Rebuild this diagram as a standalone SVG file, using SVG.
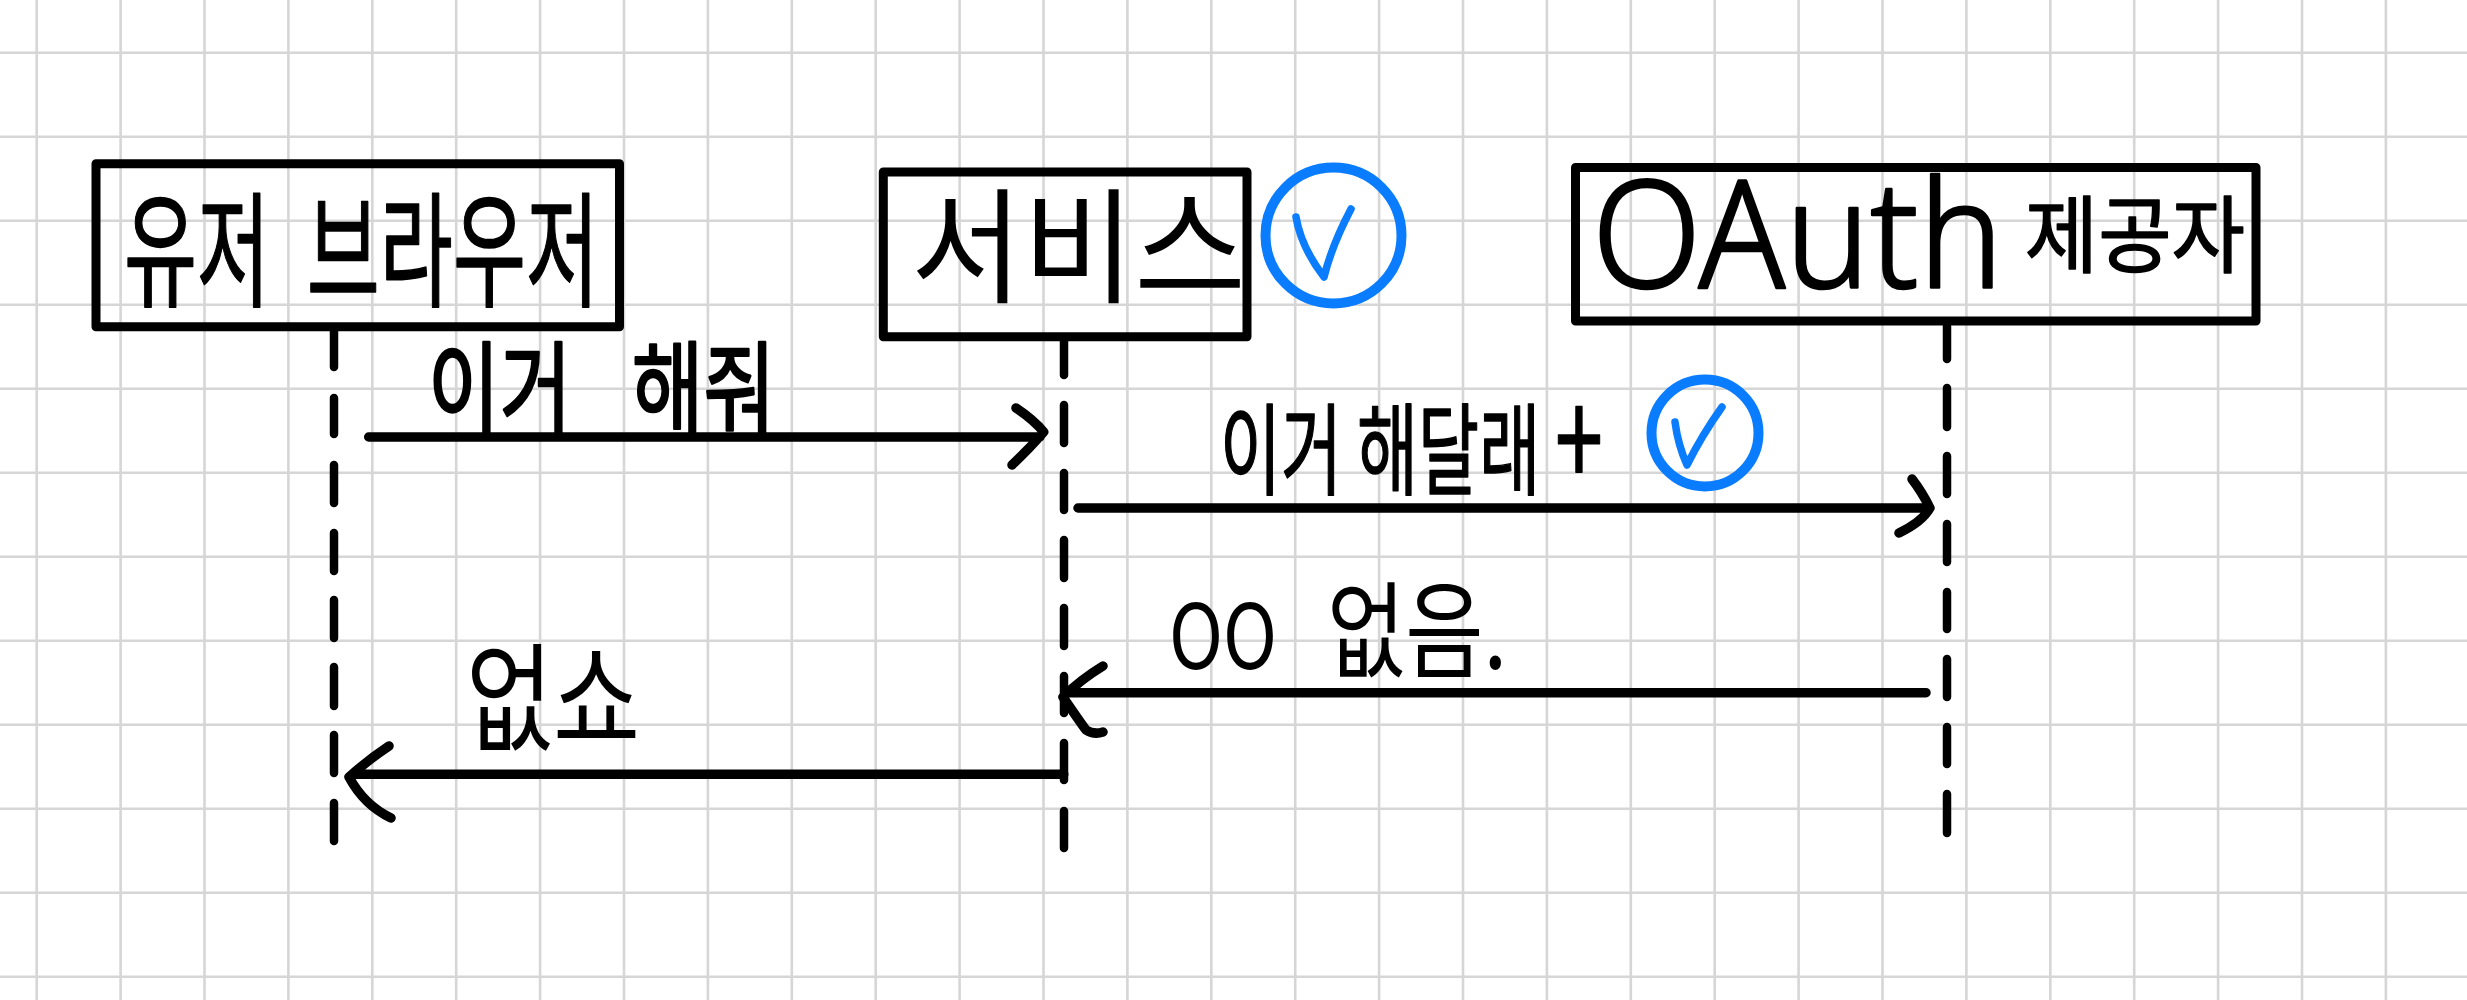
<svg xmlns="http://www.w3.org/2000/svg" width="2467" height="1000" viewBox="0 0 2467 1000">
<style>
.bg{fill:#fff}
.grid{stroke:#d6d6d6;stroke-width:2.6;fill:none}
.box{fill:none;stroke:#000;stroke-width:9;stroke-linejoin:round}
.life{fill:none;stroke:#000;stroke-width:8.500;stroke-linecap:round}
.arrow{fill:none;stroke:#000;stroke-width:9.500;stroke-linecap:round;stroke-linejoin:round}
.mark{fill:none;stroke:#0a7cff;stroke-width:10}
.tick{fill:none;stroke:#0a7cff;stroke-width:7.500;stroke-linecap:round;stroke-linejoin:round}
text{font-family:"Noto Sans CJK KR","Noto Sans",sans-serif;font-weight:400;fill:#000;stroke:#000;stroke-width:1.5;stroke-linejoin:round}
.thin{stroke-width:0}
.heavy{stroke-width:2.500}
.latin{font-family:"Noto Sans","Noto Sans CJK KR",sans-serif;font-weight:300;stroke-width:2.500}
</style>
<rect class="bg" width="2467" height="1000"/>
<g id="grid">
<path class="grid" d="M36.7 0V1000M120.6 0V1000M204.5 0V1000M288.4 0V1000M372.3 0V1000M456.2 0V1000M540.1 0V1000M624 0V1000M707.9 0V1000M791.8 0V1000M875.7 0V1000M959.6 0V1000M1043.5 0V1000M1127.4 0V1000M1211.3 0V1000M1295.2 0V1000M1379.1 0V1000M1463 0V1000M1546.9 0V1000M1630.8 0V1000M1714.7 0V1000M1798.6 0V1000M1882.5 0V1000M1966.4 0V1000M2050.3 0V1000M2134.2 0V1000M2218.1 0V1000M2302 0V1000M2385.9 0V1000"/>
<path class="grid" d="M0 52.7H2467M0 136.7H2467M0 220.7H2467M0 304.7H2467M0 388.7H2467M0 472.7H2467M0 556.7H2467M0 640.7H2467M0 724.7H2467M0 808.7H2467M0 892.7H2467M0 976.7H2467"/>
</g>
<g id="connectors">
<path id="lifeline-user" class="life" d="M334 331V367M334 398V434M334 465V503M334 533V571M334 600V638M334 667V706M334 735V773M334 803V841"/>
<path id="lifeline-service" class="life" d="M1064 341V375M1064 405V443M1064 473V510M1064 540V578M1064 608V646M1064 676V713M1064 743V780M1064 811V848"/>
<path id="lifeline-oauth" class="life" d="M1947 326V359M1947 388V427M1947 456V494M1947 524V562M1947 592V629M1947 659V697M1947 727V764M1947 794V833"/>
<path id="msg-1" class="arrow" d="M368.7 437H1040M1016 408Q1034 420 1043.7 432Q1030 448 1012 465"/>
<path id="msg-2" class="arrow" d="M1078 508H1928M1912 479Q1922 492 1930 508Q1922 522 1899 533"/>
<path id="msg-3" class="arrow" d="M1926 692.700H1068M1103 666Q1080 680 1063 697Q1080 722 1086 730Q1094 735 1103 732"/>
<path id="msg-4" class="arrow" d="M1063.800 774.300H352M389 746Q368 760 349 777Q364 805 391 818"/>
</g>
<g id="node-user">
<rect class="box" x="96" y="163.700" width="523.500" height="163"/>
<text transform="translate(124 297) scale(.635 1)" font-size="125" word-spacing="30">유저 브라우저</text>
</g>
<g id="node-service">
<rect class="box" x="883.300" y="172" width="363.700" height="164.700"/>
<text class="thin" x="911" y="293" font-size="125" textLength="335" lengthAdjust="spacingAndGlyphs">서비스</text>
</g>
<g id="node-service-check">
<circle class="mark" cx="1333.500" cy="235.500" r="68"/>
<path class="tick" d="M1296 217Q1301 247 1324 277Q1332 245 1351 209"/>
</g>
<g id="node-oauth">
<rect class="box" x="1575.500" y="167.500" width="680.500" height="153.500"/>
<text transform="translate(1592 288) scale(.95 1)" font-size="100"><tspan class="latin" font-size="150">OAuth</tspan> <tspan dy="-22" font-size="84">제공자</tspan></text>
</g>
<g id="label-1">
<text class="heavy" transform="translate(428 425) scale(.78 1)" font-size="100" word-spacing="55">이거 해줘</text>
</g>
<g id="label-2">
<text transform="translate(1220 487) scale(.664 1)" font-size="100">이거 해달래 <tspan font-size="130">+</tspan></text>
</g>
<g id="label-2-check">
<circle class="mark" cx="1705" cy="433" r="53.500"/>
<path class="tick" d="M1675 422Q1678 445 1687 465Q1702 435 1722 407"/>
</g>
<g id="label-3">
<text class="thin" transform="translate(1169 669) scale(.81 1)" font-size="105" word-spacing="38"><tspan font-size="90">OO</tspan> 없음.</text>
</g>
<g id="label-4">
<text class="thin" x="466" y="742" font-size="118" textLength="174" lengthAdjust="spacingAndGlyphs">없쇼</text>
</g>
</svg>
